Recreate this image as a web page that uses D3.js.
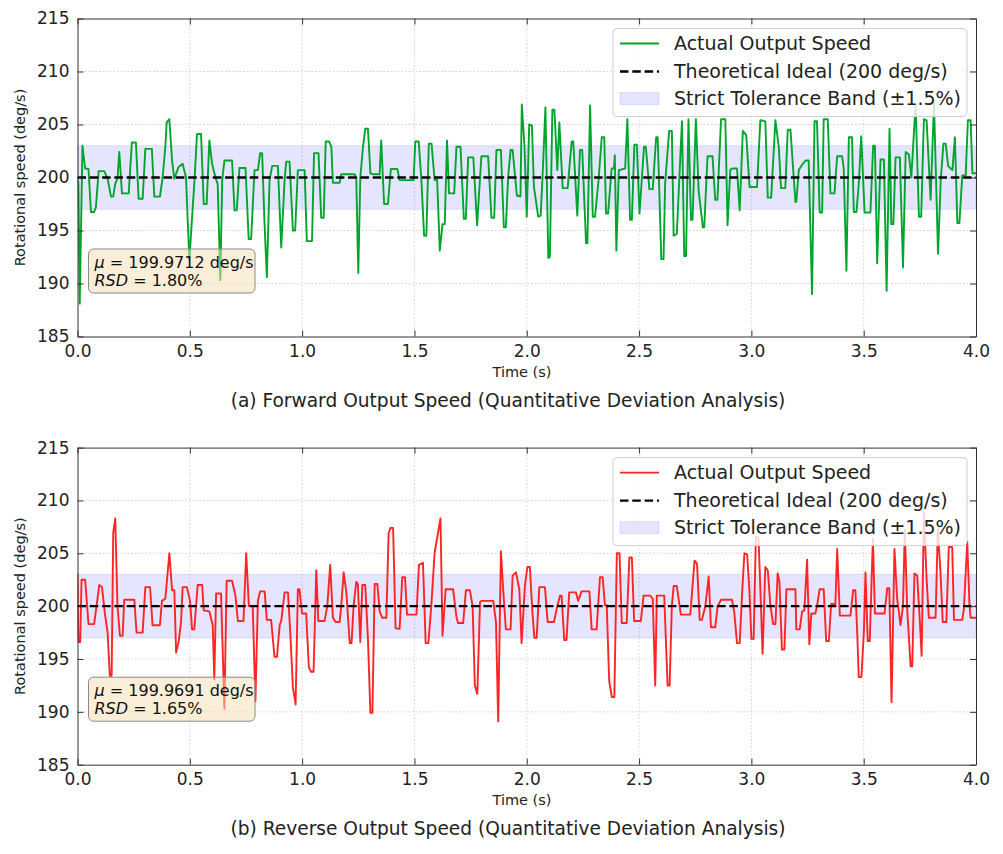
<!DOCTYPE html>
<html><head><meta charset="utf-8">
<script src="https://cdn.jsdelivr.net/npm/d3@7"></script>
<style>body{margin:0;background:#fff}svg{display:block;font-family:"DejaVu Sans",sans-serif}</style>
</head><body><svg id="c" width="1003" height="854"></svg>
<script>
// ---------- data (time s, speed deg/s) ----------
const forwardSpeed = [
[0.000,199.8],[0.004,199.5],[0.010,188.1],[0.022,203.0],[0.034,200.85],[0.049,200.8],[0.060,196.75],[0.074,196.75],[0.082,197.2],[0.094,200.6],
[0.119,200.6],[0.134,199.9],[0.149,198.2],[0.159,198.2],[0.168,199.4],[0.178,199.9],[0.186,202.4],[0.198,198.5],[0.228,198.5],[0.242,203.3],
[0.260,203.3],[0.272,198.0],[0.290,198.0],[0.302,202.7],[0.331,202.7],[0.342,198.2],[0.367,198.2],[0.379,200.0],[0.391,202.9],[0.397,205.2],
[0.409,205.5],[0.421,201.6],[0.431,199.9],[0.450,201.0],[0.468,201.3],[0.483,200.0],[0.498,192.2],[0.513,197.2],[0.520,199.4],[0.532,204.1],
[0.550,204.1],[0.562,197.5],[0.575,197.5],[0.587,203.5],[0.599,201.3],[0.614,200.0],[0.624,199.4],[0.636,190.3],[0.644,199.7],[0.654,201.6],
[0.688,201.6],[0.699,196.9],[0.709,196.9],[0.721,200.9],[0.748,200.9],[0.762,194.2],[0.773,194.2],[0.788,200.7],[0.803,200.7],[0.813,202.3],
[0.822,202.3],[0.832,196.0],[0.843,190.6],[0.855,199.75],[0.867,201.1],[0.892,201.1],[0.907,193.4],[0.922,199.75],[0.929,201.5],[0.944,201.5],
[0.959,195.0],[0.969,195.0],[0.981,200.7],[1.011,200.7],[1.021,194.0],[1.044,194.0],[1.053,202.3],[1.073,202.3],[1.085,196.2],[1.096,196.2],
[1.105,203.4],[1.120,203.4],[1.130,202.9],[1.137,199.5],[1.167,199.5],[1.174,200.3],[1.234,200.3],[1.241,200.0],[1.250,191.0],[1.259,200.0],
[1.271,202.9],[1.281,204.6],[1.293,204.6],[1.304,200.4],[1.316,200.3],[1.345,200.3],[1.352,203.5],[1.365,197.5],[1.382,197.5],[1.395,200.8],
[1.424,200.8],[1.434,199.75],[1.496,199.75],[1.504,203.4],[1.519,203.4],[1.531,199.75],[1.543,194.5],[1.553,194.5],[1.564,203.2],[1.576,203.2],
[1.590,199.75],[1.601,199.8],[1.613,193.1],[1.625,195.6],[1.635,195.6],[1.645,203.5],[1.654,198.5],[1.677,198.5],[1.687,202.9],[1.705,202.9],
[1.720,196.1],[1.729,196.1],[1.739,201.9],[1.762,201.9],[1.779,195.5],[1.798,202.0],[1.828,202.0],[1.843,196.2],[1.855,196.2],[1.865,202.6],
[1.885,202.6],[1.898,195.3],[1.907,195.3],[1.917,200.0],[1.928,202.6],[1.937,202.6],[1.956,198.3],[1.972,198.2],[1.978,206.9],[1.990,202.9],
[2.000,196.3],[2.011,205.0],[2.023,204.9],[2.032,199.1],[2.051,196.3],[2.062,196.4],[2.071,200.4],[2.083,206.6],[2.096,192.4],[2.103,192.5],
[2.114,206.4],[2.123,206.4],[2.136,200.7],[2.145,205.2],[2.160,199.0],[2.182,199.0],[2.200,203.4],[2.207,203.4],[2.225,196.4],[2.237,202.6],
[2.247,202.6],[2.264,193.8],[2.270,193.8],[2.282,206.8],[2.294,196.3],[2.304,196.3],[2.319,199.6],[2.334,203.8],[2.345,203.8],[2.353,196.6],
[2.362,196.6],[2.378,200.85],[2.388,200.85],[2.392,202.1],[2.399,193.1],[2.410,200.7],[2.438,200.85],[2.448,205.5],[2.460,196.0],[2.468,196.0],
[2.479,203.1],[2.490,203.1],[2.502,196.6],[2.522,202.9],[2.530,202.9],[2.546,198.9],[2.561,198.9],[2.576,203.8],[2.583,203.8],[2.599,192.3],
[2.609,192.3],[2.616,199.4],[2.634,204.4],[2.646,204.4],[2.654,194.5],[2.668,194.7],[2.691,205.3],[2.701,192.6],[2.709,192.6],[2.720,205.5],
[2.731,196.0],[2.738,196.0],[2.753,205.5],[2.765,198.8],[2.784,195.3],[2.790,195.3],[2.805,202.0],[2.827,202.0],[2.839,197.9],[2.849,197.9],
[2.865,205.5],[2.884,205.5],[2.894,195.5],[2.906,200.7],[2.914,200.85],[2.936,200.85],[2.948,196.9],[2.962,204.4],[2.977,204.0],[2.992,199.1],
[3.025,199.1],[3.040,205.4],[3.062,205.3],[3.073,198.1],[3.088,198.1],[3.107,205.4],[3.122,202.9],[3.132,199.0],[3.151,199.0],[3.162,204.5],
[3.174,204.5],[3.196,197.7],[3.200,197.7],[3.211,200.7],[3.226,201.2],[3.241,201.6],[3.255,201.6],[3.270,189.0],[3.281,205.3],[3.292,205.3],
[3.304,196.7],[3.315,196.7],[3.322,205.5],[3.340,205.5],[3.352,198.5],[3.370,198.5],[3.382,202.0],[3.404,202.0],[3.411,200.9],[3.423,191.2],
[3.434,203.8],[3.448,203.8],[3.456,196.75],[3.468,196.75],[3.478,199.4],[3.489,203.9],[3.504,196.7],[3.530,196.7],[3.542,203.0],[3.550,203.0],
[3.560,191.9],[3.575,201.7],[3.590,201.7],[3.602,189.3],[3.615,204.6],[3.623,195.6],[3.632,195.6],[3.642,201.9],[3.661,201.9],[3.675,191.5],
[3.687,202.4],[3.701,202.2],[3.712,200.0],[3.731,206.9],[3.746,196.3],[3.756,196.3],[3.768,205.5],[3.780,205.4],[3.798,197.9],[3.813,207.0],
[3.831,192.8],[3.843,199.75],[3.855,203.2],[3.865,203.2],[3.876,201.1],[3.884,200.9],[3.895,200.7],[3.906,203.8],[3.917,195.7],[3.926,195.7],
[3.939,200.2],[3.954,200.2],[3.964,205.4],[3.976,205.4],[3.984,200.4],[4.000,200.4]
];
const reverseSpeed = [
[0.000,203.1],[0.004,196.6],[0.012,196.6],[0.018,202.5],[0.034,202.5],[0.049,198.3],[0.074,198.3],[0.097,202.0],[0.109,201.8],[0.122,199.3],
[0.134,197.5],[0.144,193.4],[0.152,193.4],[0.159,206.9],[0.168,208.3],[0.178,200.0],[0.189,197.2],[0.201,197.2],[0.208,200.6],[0.253,200.6],
[0.263,197.5],[0.290,197.5],[0.302,201.8],[0.323,201.8],[0.334,198.2],[0.367,198.2],[0.376,200.5],[0.391,200.7],[0.409,205.0],[0.421,201.5],
[0.431,201.5],[0.439,195.6],[0.450,196.6],[0.461,198.5],[0.468,201.8],[0.487,201.8],[0.501,200.5],[0.510,197.8],[0.520,197.8],[0.535,202.0],
[0.555,202.0],[0.562,199.6],[0.587,199.5],[0.602,198.2],[0.609,193.1],[0.617,201.2],[0.639,201.2],[0.654,190.3],[0.664,202.4],[0.688,202.4],
[0.703,201.0],[0.714,198.6],[0.739,198.6],[0.751,205.0],[0.763,200.0],[0.780,200.0],[0.792,191.0],[0.803,200.5],[0.813,201.4],[0.833,201.4],
[0.843,198.7],[0.862,198.7],[0.877,195.2],[0.888,195.2],[0.900,198.2],[0.907,198.6],[0.922,201.3],[0.937,201.3],[0.947,197.6],[0.959,192.3],
[0.971,190.7],[0.981,201.6],[0.988,201.6],[1.000,199.3],[1.018,199.3],[1.030,194.2],[1.040,193.8],[1.051,193.8],[1.063,203.4],[1.072,198.6],
[1.100,198.6],[1.112,200.0],[1.125,203.9],[1.137,198.9],[1.149,198.5],[1.167,198.5],[1.174,200.0],[1.185,203.2],[1.197,201.3],[1.212,196.5],
[1.220,196.5],[1.229,200.0],[1.241,202.3],[1.248,202.1],[1.259,196.6],[1.268,202.0],[1.281,202.0],[1.293,196.9],[1.304,189.9],[1.313,189.9],
[1.323,202.1],[1.335,202.1],[1.345,199.5],[1.357,198.9],[1.375,198.9],[1.385,206.9],[1.393,207.4],[1.405,207.4],[1.416,197.9],[1.434,197.85],
[1.446,202.75],[1.458,202.75],[1.467,199.2],[1.509,199.2],[1.520,203.9],[1.538,204.1],[1.550,196.5],[1.562,196.5],[1.575,200.0],[1.590,205.1],
[1.616,208.3],[1.625,197.2],[1.639,201.6],[1.672,201.6],[1.687,199.0],[1.694,198.4],[1.717,198.4],[1.729,201.5],[1.747,201.5],[1.759,200.0],
[1.769,192.5],[1.780,191.7],[1.792,200.4],[1.799,200.5],[1.851,200.5],[1.863,198.5],[1.873,189.1],[1.885,205.2],[1.895,201.6],[1.907,197.8],
[1.928,197.8],[1.937,202.9],[1.952,203.2],[1.967,201.6],[1.977,196.5],[1.992,202.0],[2.003,203.7],[2.014,203.7],[2.025,199.5],[2.034,197.0],
[2.044,197.0],[2.056,201.8],[2.081,201.8],[2.093,198.5],[2.121,198.5],[2.136,200.0],[2.148,201.0],[2.155,201.0],[2.167,196.8],[2.177,196.8],
[2.189,201.3],[2.219,201.3],[2.229,200.5],[2.244,201.4],[2.279,201.4],[2.289,197.8],[2.311,197.8],[2.326,202.75],[2.338,202.75],[2.348,200.1],
[2.356,200.1],[2.367,192.9],[2.379,191.4],[2.390,191.4],[2.401,205.0],[2.413,205.0],[2.423,198.4],[2.445,198.4],[2.457,204.6],[2.468,204.6],
[2.478,198.6],[2.508,198.6],[2.520,201.0],[2.549,201.0],[2.561,200.7],[2.572,192.5],[2.579,201.0],[2.612,201.0],[2.627,192.5],[2.636,192.5],
[2.646,200.0],[2.654,201.9],[2.668,201.9],[2.686,199.2],[2.728,199.2],[2.747,204.3],[2.758,204.0],[2.770,198.7],[2.780,198.7],[2.795,200.0],
[2.810,202.8],[2.820,198.0],[2.839,198.0],[2.850,200.0],[2.865,200.6],[2.914,200.6],[2.924,199.4],[2.936,196.5],[2.948,196.5],[2.959,201.3],
[2.969,205.0],[2.981,204.9],[2.991,201.6],[3.000,196.9],[3.010,196.9],[3.020,206.6],[3.032,206.4],[3.050,195.5],[3.062,203.7],[3.073,203.4],
[3.085,200.0],[3.097,198.3],[3.107,198.3],[3.117,203.1],[3.125,202.3],[3.136,195.9],[3.147,195.9],[3.156,201.6],[3.196,201.6],[3.200,197.8],
[3.215,197.8],[3.226,199.5],[3.236,199.6],[3.248,204.4],[3.258,196.4],[3.267,199.3],[3.285,199.3],[3.292,200.0],[3.304,201.6],[3.322,201.6],
[3.333,196.7],[3.345,196.7],[3.355,200.2],[3.374,200.2],[3.382,205.4],[3.394,199.1],[3.441,199.1],[3.453,201.5],[3.463,201.5],[3.471,197.6],
[3.478,193.3],[3.490,193.3],[3.501,197.7],[3.508,203.2],[3.518,196.7],[3.527,196.7],[3.541,206.4],[3.550,199.3],[3.593,199.3],[3.605,201.7],
[3.614,201.7],[3.624,190.9],[3.637,205.4],[3.649,200.7],[3.664,198.2],[3.675,200.0],[3.683,207.2],[3.694,199.6],[3.709,194.3],[3.716,194.3],
[3.726,203.1],[3.738,202.9],[3.750,198.6],[3.758,195.3],[3.768,208.9],[3.780,202.6],[3.790,198.9],[3.820,198.9],[3.830,207.3],[3.842,203.2],
[3.852,198.5],[3.868,198.5],[3.879,205.6],[3.894,205.6],[3.902,198.7],[3.939,198.7],[3.946,199.75],[3.961,206.1],[3.971,200.1],[3.976,198.9],
[4.000,198.9]
];
const xTicks = [0.0,0.5,1.0,1.5,2.0,2.5,3.0,3.5,4.0];
const yTicks = [185,190,195,200,205,210,215];
const xDomain = [0,4];
const yDomain = [185,215];
const idealSpeed = 200;
const tolerancePct = 1.5;
const legendLabels = ["Actual Output Speed","Theoretical Ideal (200 deg/s)","Strict Tolerance Band (\u00b11.5%)"];
const panelCaptions = ["(a) Forward Output Speed (Quantitative Deviation Analysis)","(b) Reverse Output Speed (Quantitative Deviation Analysis)"];
const panelMeans = ["199.9712","199.9691"];
const panelRSD = ["1.80%","1.65%"];

// ---------- drawing ----------
const svg = d3.select("#c");
const X0 = 77.5, X1 = 976;
const panels = [
  {top:18.5, bottom:336.5, data:forwardSpeed, color:"#00a62b", caption:panelCaptions[0], mean:panelMeans[0], rsd:panelRSD[0]},
  {top:447.6, bottom:764.7, data:reverseSpeed, color:"#ff2424", caption:panelCaptions[1], mean:panelMeans[1], rsd:panelRSD[1]}
];

panels.forEach((p,i)=>{
  const x = d3.scaleLinear().domain(xDomain).range([X0,X1]);
  const y = d3.scaleLinear().domain(yDomain).range([p.bottom,p.top]);
  const g = svg.append("g");
  const clipId = "clip"+i;
  svg.append("clipPath").attr("id",clipId).append("rect")
    .attr("x",X0).attr("y",p.top).attr("width",X1-X0).attr("height",p.bottom-p.top);

  // grid
  const grid = g.append("g").attr("stroke","#c8c8c8").attr("stroke-width",0.9).attr("stroke-dasharray","1.4,2.2");
  grid.selectAll(".gx").data(xTicks.slice(1,-1)).join("line")
    .attr("x1",d=>x(d)).attr("x2",d=>x(d)).attr("y1",p.top).attr("y2",p.bottom);
  grid.selectAll(".gy").data(yTicks.slice(1,-1)).join("line")
    .attr("y1",d=>y(d)).attr("y2",d=>y(d)).attr("x1",X0).attr("x2",X1);

  // tolerance band
  const hi = idealSpeed*(1+tolerancePct/100), lo = idealSpeed*(1-tolerancePct/100);
  g.append("rect").attr("x",X0).attr("width",X1-X0)
    .attr("y",y(hi)).attr("height",y(lo)-y(hi))
    .attr("fill","rgba(0,0,255,0.1)").attr("stroke","rgba(0,0,255,0.1)").attr("stroke-width",1);

  // data line
  g.append("path").datum(p.data)
    .attr("clip-path",`url(#${clipId})`)
    .attr("fill","none").attr("stroke",p.color).attr("stroke-width",1.9).attr("stroke-linejoin","round")
    .attr("d",d3.line().x(d=>x(d[0])).y(d=>y(d[1])));

  // ideal line
  g.append("line").attr("x1",X0).attr("x2",X1).attr("y1",y(idealSpeed)).attr("y2",y(idealSpeed))
    .attr("stroke","#000").attr("stroke-width",2.4).attr("stroke-dasharray","8.5,3.8");

  // axes (ticks inward on all sides)
  const styleAxis = sel => {
    sel.select(".domain").attr("stroke","#333").attr("stroke-width",1);
    sel.selectAll(".tick line").attr("stroke","#333").attr("stroke-width",1);
    sel.selectAll("text").attr("font-size","17px").attr("fill","#222").attr("font-family","DejaVu Sans");
  };
  g.append("g").attr("transform",`translate(0,${p.bottom})`)
    .call(d3.axisBottom(x).tickValues(xTicks).tickFormat(d3.format(".1f")).tickSizeInner(-6).tickSizeOuter(0).tickPadding(8))
    .call(styleAxis);
  g.append("g").attr("transform",`translate(0,${p.top})`)
    .call(d3.axisTop(x).tickValues(xTicks).tickFormat("").tickSizeInner(-6).tickSizeOuter(0))
    .call(styleAxis);
  g.append("g").attr("transform",`translate(${X0},0)`)
    .call(d3.axisLeft(y).tickValues(yTicks).tickFormat(d3.format("d")).tickSizeInner(-6).tickSizeOuter(0).tickPadding(8))
    .call(styleAxis);
  g.append("g").attr("transform",`translate(${X1},0)`)
    .call(d3.axisRight(y).tickValues(yTicks).tickFormat("").tickSizeInner(-6).tickSizeOuter(0))
    .call(styleAxis);

  // axis labels
  g.append("text").attr("x",522).attr("y",p.bottom+40).attr("text-anchor","middle")
    .attr("font-size","14.5px").attr("fill","#222").text("Time (s)");
  g.append("text").attr("transform",`translate(25,${(p.top+p.bottom)/2}) rotate(-90)`).attr("text-anchor","middle")
    .attr("font-size","14.5px").attr("fill","#222").text("Rotational speed (deg/s)");
  g.append("text").attr("x",508).attr("y",p.bottom+70).attr("text-anchor","middle")
    .attr("font-size","18.6px").attr("fill","#222").text(p.caption);

  // legend
  const lx = 613, ly = p.top+10, lw = 354, lh = 88;
  const lg = g.append("g");
  lg.append("rect").attr("x",lx).attr("y",ly).attr("width",lw).attr("height",lh).attr("rx",4)
    .attr("fill","rgba(255,255,255,0.8)").attr("stroke","#cfcfcf").attr("stroke-width",1);
  const rows = [ly+15, ly+43, ly+70];
  lg.append("line").attr("x1",lx+7).attr("x2",lx+46).attr("y1",rows[0]).attr("y2",rows[0])
    .attr("stroke",p.color).attr("stroke-width",1.9);
  lg.append("line").attr("x1",lx+7).attr("x2",lx+46).attr("y1",rows[1]).attr("y2",rows[1])
    .attr("stroke","#000").attr("stroke-width",2.4).attr("stroke-dasharray","8.5,3.8");
  lg.append("rect").attr("x",lx+7).attr("y",rows[2]-6).attr("width",39).attr("height",12)
    .attr("fill","rgba(0,0,255,0.1)").attr("stroke","rgba(0,0,255,0.1)");
  lg.selectAll("text.lt").data(legendLabels).join("text")
    .attr("x",lx+61).attr("y",(d,k)=>rows[k]+6.5).attr("font-size","19px").attr("fill","#222").text(d=>d);

  // stats annotation
  const bx = 88.5, bh = 44, by = p.bottom-43.5-bh, bw = 166.5;
  g.append("rect").attr("x",bx).attr("y",by).attr("width",bw).attr("height",bh).attr("rx",5)
    .attr("fill","rgba(245,222,179,0.5)").attr("stroke","#8a8a8a").attr("stroke-width",1);
  const t1 = g.append("text").attr("x",bx+6).attr("y",by+18.5).attr("font-size","16px").attr("fill","#111");
  t1.append("tspan").attr("font-style","italic").text("\u03bc");
  t1.append("tspan").text(" = "+p.mean+" deg/s");
  const t2 = g.append("text").attr("x",bx+6).attr("y",by+36.5).attr("font-size","16px").attr("fill","#111");
  t2.append("tspan").attr("font-style","italic").text("RSD");
  t2.append("tspan").text(" = "+p.rsd);
});
</script></body></html>
